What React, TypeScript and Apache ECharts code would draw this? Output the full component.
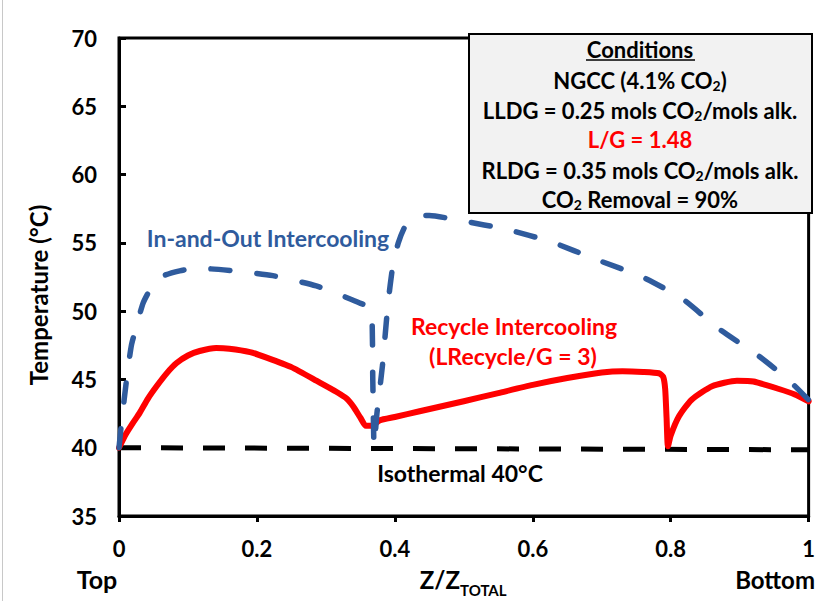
import React, { useEffect, useRef } from "react";
import * as echarts from "echarts";

const xTicks = [0, 0.2, 0.4, 0.6, 0.8, 1];
const yTicks = [35, 40, 45, 50, 55, 60, 65, 70];

const recycleX = [0, 0.01, 0.02, 0.03, 0.042, 0.0545, 0.07, 0.0835, 0.1, 0.117, 0.141, 0.16, 0.19, 0.214, 0.25, 0.29, 0.315, 0.33, 0.34, 0.35, 0.358, 0.366, 0.378, 0.4, 0.436, 0.5, 0.55, 0.6, 0.65, 0.7, 0.73, 0.76, 0.783, 0.789, 0.792, 0.794, 0.796, 0.8, 0.812, 0.83, 0.86, 0.896, 0.92, 0.957, 0.98, 1];
const recycleY = [40, 41.0, 41.8, 42.55, 43.6, 44.5, 45.5, 46.2, 46.75, 47.08, 47.3, 47.25, 47.0, 46.6, 45.9, 44.8, 44.1, 43.6, 43.0, 42.2, 41.6, 41.6, 42.0, 42.25, 42.67, 43.4, 44.0, 44.6, 45.1, 45.5, 45.6, 45.55, 45.45, 45.2, 44.3, 42.2, 40.1, 40.9, 42.3, 43.5, 44.5, 44.9, 44.85, 44.3, 43.9, 43.4];

const inOutX = [0, 0.004, 0.011, 0.018, 0.026, 0.035, 0.049, 0.065, 0.088, 0.108, 0.13, 0.165, 0.223, 0.286, 0.32, 0.349, 0.366, 0.368, 0.37, 0.374, 0.382, 0.39, 0.397, 0.405, 0.416, 0.436, 0.45, 0.498, 0.561, 0.628, 0.691, 0.759, 0.817, 0.87, 0.928, 0.97, 1];
const inOutY = [40, 42, 45, 47.5, 49, 50.6, 51.9, 52.6, 52.95, 53.1, 53.1, 52.95, 52.6, 51.85, 51.2, 50.6, 50.15, 45, 40.1, 42.5, 46.0, 50.5, 53.3, 55.0, 56.3, 57.0, 57.0, 56.6, 56.0, 55.05, 53.8, 52.5, 50.9, 48.7, 46.7, 45.0, 43.5];

const isoX = [0, 1];
const isoY = [40, 39.85];

const boxLines = [
  "{a|NGCC (4.1% CO}{s|2}{a|)}",
  "{a|LLDG = 0.25 mols CO}{s|2}{a|/mols alk.}",
  "{r|L/G = 1.48}",
  "{a|RLDG = 0.35 mols CO}{s|2}{a|/mols alk.}",
  "{a|CO}{s|2}{a| Removal = 90%}",
];

const FONT = "Lato, 'Open Sans', sans-serif";
const BLUE = "#2F5B9D";
const RED = "#FF0000";

const zip = (xs: number[], ys: number[]) => xs.map((x, i) => [x, ys[i]]);

export default function App() {
  const ref = useRef<HTMLDivElement>(null);
  useEffect(() => {
    if (!ref.current) return;
    const chart = echarts.init(ref.current, null, { renderer: "svg" });
    const rich = {
      a: { fontFamily: FONT, fontWeight: "bold", fontSize: 22, fill: "#000", lineHeight: 26 },
      r: { fontFamily: FONT, fontWeight: "bold", fontSize: 22, fill: RED, lineHeight: 26 },
      s: { fontFamily: FONT, fontWeight: "bold", fontSize: 14, fill: "#000", padding: [10, 0, 0, 0] },
    };
    const boxYs = [80, 110, 139, 170, 199];
    chart.setOption({
      animation: false,
      backgroundColor: "#fff",
      grid: {
        left: 119,
        right: 8,
        top: 38,
        bottom: 85,
        show: true,
        borderColor: "#000",
        borderWidth: 3,
        backgroundColor: "transparent",
      },
      xAxis: {
        type: "value",
        min: 0,
        max: 1,
        interval: 0.2,
        axisLine: { show: true, lineStyle: { color: "#000", width: 3 } },
        axisTick: { show: true, inside: false, length: 6, lineStyle: { color: "#000", width: 3 } },
        splitLine: { show: false },
        axisLabel: {
          margin: 21,
          fontFamily: FONT,
          fontWeight: "bold",
          fontSize: 22,
          color: "#000",
          formatter: (v: number) => (xTicks.includes(Math.round(v * 10) / 10) ? String(Math.round(v * 10) / 10) : ""),
        },
      },
      yAxis: {
        type: "value",
        min: 35,
        max: 70,
        interval: 5,
        axisLine: { show: true, lineStyle: { color: "#000", width: 3 } },
        axisTick: { show: true, inside: true, length: 7, lineStyle: { color: "#000", width: 3 } },
        splitLine: { show: false },
        axisLabel: {
          margin: 22,
          fontFamily: FONT,
          fontWeight: "bold",
          fontSize: 22,
          color: "#000",
          formatter: (v: number) => (yTicks.includes(v) ? String(v) : ""),
        },
      },
      series: [
        {
          type: "line",
          name: "Isothermal 40°C",
          data: zip(isoX, isoY),
          showSymbol: false,
          lineStyle: { color: "#000", width: 5, type: [22, 20] },
          z: 2,
        },
        {
          type: "line",
          name: "Recycle Intercooling",
          data: zip(recycleX, recycleY),
          showSymbol: false,
          smooth: 0.2,
          lineStyle: { color: RED, width: 6, cap: "round", join: "round" },
          z: 3,
        },
        {
          type: "line",
          name: "In-and-Out Intercooling",
          data: zip(inOutX, inOutY),
          showSymbol: false,
          smooth: 0.2,
          lineStyle: { color: BLUE, width: 5.5, type: [19, 27], cap: "round", join: "round" },
          z: 4,
        },
      ],
      graphic: [
        { type: "rect", left: 2, top: 0, shape: { width: 1, height: 601 }, style: { fill: "#c8c8c8" }, silent: true },
        {
          type: "rect",
          shape: { x: 469, y: 34, width: 343, height: 179 },
          style: { fill: "#F2F2F2", stroke: "#000", lineWidth: 2 },
          z: 100,
        },
        {
          type: "text",
          x: 640,
          y: 49,
          z: 101,
          style: { text: "Conditions", align: "center", verticalAlign: "middle", font: `bold 22px ${FONT}`, fill: "#000" },
        },
        { type: "line", z: 101, shape: { x1: 586, y1: 60, x2: 695, y2: 60 }, style: { stroke: "#000", lineWidth: 1.5 } },
        ...boxLines.map((t, i) => ({
          type: "text",
          x: 640,
          y: boxYs[i],
          z: 101,
          style: { text: t, rich, align: "center", verticalAlign: "middle" },
        })),
        {
          type: "text",
          x: 268,
          y: 238,
          style: { text: "In-and-Out Intercooling", align: "center", verticalAlign: "middle", font: `bold 23px ${FONT}`, fill: BLUE },
        },
        {
          type: "text",
          x: 514,
          y: 326,
          style: { text: "Recycle Intercooling", align: "center", verticalAlign: "middle", font: `bold 23px ${FONT}`, fill: RED },
        },
        {
          type: "text",
          x: 513,
          y: 356,
          style: { text: "(LRecycle/G = 3)", align: "center", verticalAlign: "middle", font: `bold 23px ${FONT}`, fill: RED },
        },
        {
          type: "text",
          x: 460,
          y: 473,
          style: { text: "Isothermal 40°C", align: "center", verticalAlign: "middle", font: `bold 23px ${FONT}`, fill: "#000" },
        },
        {
          type: "text",
          x: 38,
          y: 295,
          rotation: Math.PI / 2,
          style: { text: "Temperature (°C)", align: "center", verticalAlign: "middle", font: `bold 24px ${FONT}`, fill: "#000" },
        },
        {
          type: "text",
          x: 97,
          y: 579,
          style: { text: "Top", align: "center", verticalAlign: "middle", font: `bold 25px ${FONT}`, fill: "#000" },
        },
        {
          type: "text",
          x: 460,
          y: 579,
          style: { text: "Z/Z", align: "right", verticalAlign: "middle", font: `bold 24px ${FONT}`, fill: "#000" },
        },
        {
          type: "text",
          x: 460,
          y: 590,
          style: { text: "TOTAL", align: "left", verticalAlign: "middle", font: `bold 15px ${FONT}`, fill: "#000" },
        },
        {
          type: "text",
          x: 815,
          y: 579,
          style: { text: "Bottom", align: "right", verticalAlign: "middle", font: `bold 24px ${FONT}`, fill: "#000" },
        },
      ],
    });
    return () => chart.dispose();
  }, []);
  return <div ref={ref} style={{ position: "fixed", left: 0, top: 0, width: 818, height: 601 }} />;
}
